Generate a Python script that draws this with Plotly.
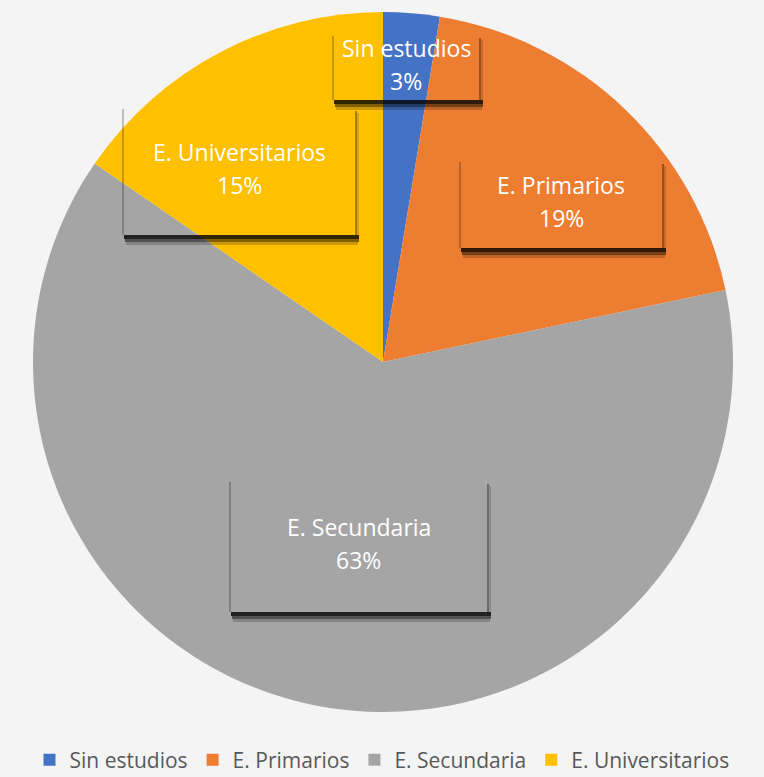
import plotly.graph_objects as go

categories = ["Sin estudios", "E. Primarios", "E. Secundaria", "E. Universitarios"]
values = [2.6, 19.1, 62.9, 15.4]
colors = ["#4472C4", "#ED7D31", "#A5A5A5", "#FFC000"]

# label box pixel layout (x0, y0, x1, y1) in the 764x777 canvas
boxes = [(333, 32, 479, 100), (460, 158, 662, 248), (230, 478, 487, 612), (123, 105, 355, 235)]

W, H = 764, 777
def px(x):
    return x / W
def py(y):
    return 1 - y / H

total = sum(values)
pcts = [f"{round(v / total * 100)}%" for v in values]

fig = go.Figure()
fig.add_trace(go.Pie(
    labels=categories, values=values, sort=False, direction="clockwise", rotation=0,
    marker=dict(colors=colors, line=dict(width=0)),
    textinfo="none", hoverinfo="label+percent",
    domain=dict(x=[px(33), px(733)], y=[py(712), py(12)]),
))

shapes = []
annotations = []

def rect(x0, y0, x1, y1, color):
    shapes.append(dict(type="rect", xref="paper", yref="paper",
                       x0=px(x0), x1=px(x1), y0=py(y0), y1=py(y1),
                       fillcolor=color, line=dict(width=0), layer="above"))

for (x0, y0, x1, y1), name, pct in zip(boxes, categories, pcts):
    # shadow drawn outside the (transparent) label box
    rect(x0 + 1, y1, x1 + 4, y1 + 4, "rgba(0,0,0,0.8)")
    rect(x0 + 2, y1 + 4, x1 + 4, y1 + 7, "rgba(0,0,0,0.5)")
    rect(x0 + 3, y1 + 7, x1 + 3, y1 + 10, "rgba(0,0,0,0.2)")
    rect(x1, y0 + 6, x1 + 2, y1, "rgba(0,0,0,0.35)")
    rect(x1 + 2, y0 + 8, x1 + 4, y1, "rgba(0,0,0,0.15)")
    rect(x0 - 1, y0 + 4, x0 + 1, y1, "rgba(0,0,0,0.22)")
    cx = (x0 + x1) / 2
    cy = (y0 + y1) / 2
    annotations.append(dict(x=px(cx), y=py(cy - 18), xref="paper", yref="paper",
                            xanchor="center", yanchor="middle",
                            text=name, showarrow=False,
                            font=dict(family="Open Sans", size=23, color="white")))
    annotations.append(dict(x=px(cx), y=py(cy + 15), xref="paper", yref="paper",
                            xanchor="center", yanchor="middle",
                            text=pct, showarrow=False,
                            font=dict(family="Open Sans", size=23, color="white")))

fig.update_layout(
    width=W, height=H,
    margin=dict(l=0, r=0, t=0, b=0, autoexpand=False),
    paper_bgcolor="#f4f4f4", plot_bgcolor="#f4f4f4",
    shapes=shapes, annotations=annotations,
    showlegend=True,
    legend=dict(orientation="h", x=0.5, xanchor="center", y=py(760), yanchor="middle",
                font=dict(family="Open Sans", size=21, color="#595959"),
                itemwidth=30, traceorder="normal", bgcolor="rgba(0,0,0,0)"),
)

fig.write_html("out.html", config={"displayModeBar": False},
               post_script="document.body.style.margin='0';")
